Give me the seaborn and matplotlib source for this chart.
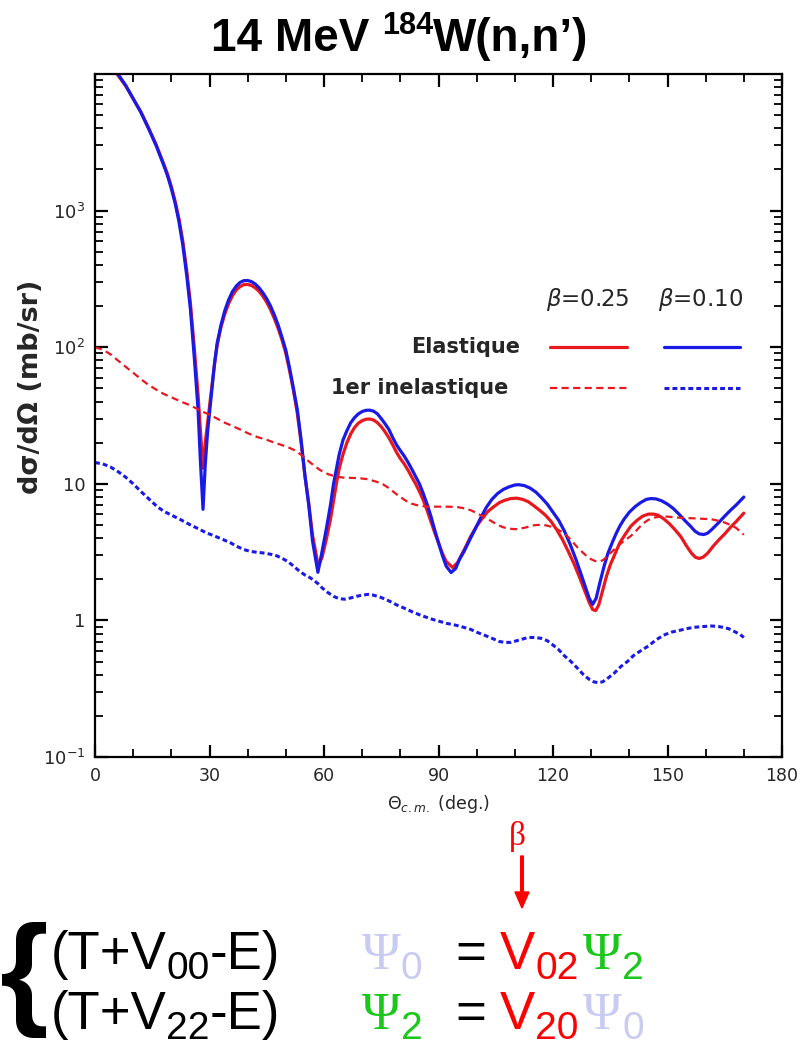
import numpy as np
import pandas as pd
import matplotlib
matplotlib.use("Agg")
import matplotlib.pyplot as plt
import seaborn as sns
from matplotlib.ticker import FixedLocator, FixedFormatter, LogLocator, NullFormatter, MultipleLocator

# ---------------- data ----------------
theta_el_b10 = [2, 4, 6, 8, 10, 12, 14, 16, 18, 19, 20, 21, 22, 23, 24, 25, 26, 27, 27.6, 28.3, 28.9,
                29.5, 30.5, 31.3, 32, 33, 34, 35, 36, 37, 38, 39, 40, 41, 42, 43, 44, 45, 46, 47, 48,
                49, 50, 51, 52, 53, 54, 55, 56, 57, 58.4, 59.3, 60.5, 61.7, 62.5, 63.3, 64, 65, 66, 67,
                68, 69, 70, 71, 72, 73, 74, 75, 76, 77, 78, 79, 80, 81, 82, 83, 84, 85, 86, 87, 88, 89,
                90, 91, 92, 93.3, 94.5, 95.5, 96.7, 98, 99.5, 101, 102.5, 104, 105.5, 107, 108.5, 110,
                111, 112.5, 114, 115.5, 117, 118.5, 120, 121.5, 123, 124.5, 126, 127.3, 128.5, 129.5,
                130.4, 131.3, 132.3, 133.4, 134.4, 135.5, 136.5, 137.5, 138.6, 140, 141.5, 143, 144.5,
                145.7, 147, 148.5, 150, 151.5, 153, 154.5, 156, 157.2, 158.3, 159.5, 160.5, 161.5,
                162.5, 163.7, 165, 166.5, 168, 170]
sigma_el_b10 = [13000, 11700, 10000, 8300, 6600, 5250, 4000, 3000, 2150, 1800, 1450, 1130, 830, 560,
                340, 190, 85, 35, 15, 6.5, 14, 24, 45, 75, 107, 145, 185, 222, 255, 280, 298, 307, 308,
                302, 290, 272, 250, 226, 200, 172, 145, 118, 95, 70, 50, 35, 21, 11.5, 7, 3.8, 2.25,
                3.0, 4.5, 7.0, 10, 13, 16.5, 21, 24.5, 28, 30.5, 32.5, 33.8, 34.5, 34.6, 34, 32.5, 30,
                27.5, 25, 21.8, 19.3, 17.5, 16, 14.4, 12.8, 11.3, 10, 8.5, 7.1, 5.8, 4.6, 3.7, 3.0, 2.5,
                2.24, 2.4, 2.8, 3.2, 3.8, 4.6, 5.6, 6.7, 7.7, 8.5, 9.1, 9.5, 9.8, 9.85, 9.7, 9.3, 8.7,
                7.9, 7.1, 6.2, 5.4, 4.5, 3.6, 2.8, 2.2, 1.75, 1.45, 1.31, 1.45, 1.9, 2.5, 3.1, 3.7, 4.3,
                4.9, 5.5, 6.2, 6.8, 7.3, 7.7, 7.8, 7.75, 7.5, 7.1, 6.6, 6.0, 5.4, 4.9, 4.5, 4.3, 4.25,
                4.35, 4.6, 4.9, 5.3, 5.8, 6.4, 7.0, 8.0]

theta_el_b25 = [2, 4, 6, 8, 10, 12, 14, 16, 18, 19, 20, 21, 22, 23, 24, 25, 26, 27, 27.6, 28.3, 28.9,
                29.5, 30.5, 31.3, 32, 33, 34, 35, 36, 37, 38, 39, 40, 41, 42, 43, 44, 45, 46, 47, 48,
                49, 50, 51, 52, 53, 54, 55, 56, 57, 58.5, 59.5, 60.5, 61.7, 62.5, 63.3, 64, 65, 66, 67,
                68, 69, 70, 71, 72, 73, 74, 75, 76, 77, 78, 79, 80, 81, 82, 83, 84, 85, 86, 87, 88, 89,
                90, 91, 92, 93.7, 95, 96, 97, 98.4, 100, 101.5, 103, 104.5, 106, 107.5, 109, 110.5, 112,
                113.5, 115, 116.5, 118, 119.5, 121, 122.5, 124, 125.5, 127, 128.3, 129.5, 130.4, 131.2,
                132, 133, 134, 135, 136.3, 137.5, 139, 140.4, 142, 143.5, 145, 146.3, 147.5, 149, 150.5,
                152, 153.5, 155, 156.3, 157.3, 158.3, 159.3, 160.5, 162, 163.5, 165, 166.5, 168, 170]
sigma_el_b25 = [12500, 11300, 9800, 8200, 6600, 5300, 4050, 3050, 2200, 1850, 1500, 1170, 870, 600, 370,
                210, 100, 45, 25, 13, 20, 28, 48, 75, 103, 140, 175, 208, 238, 262, 278, 287, 288, 283,
                272, 256, 236, 213, 188, 162, 137, 113, 90, 67, 48, 33, 20, 11.5, 7.2, 4.2, 2.5, 2.9,
                3.8, 5.5, 7.5, 10.2, 13, 16.5, 20, 23.2, 25.8, 27.8, 29, 29.7, 29.8, 29.3, 28, 26.2, 24,
                21.7, 19.3, 17, 15.3, 14, 12.6, 11.2, 10, 8.8, 7.6, 6.4, 5.3, 4.4, 3.7, 3.1, 2.7, 2.44,
                2.65, 3.0, 3.4, 4.1, 4.9, 5.6, 6.3, 6.8, 7.3, 7.6, 7.8, 7.85, 7.7, 7.4, 6.9, 6.4, 5.9,
                5.3, 4.6, 3.9, 3.2, 2.6, 2.05, 1.65, 1.35, 1.2, 1.18, 1.3, 1.65, 2.1, 2.55, 3.1, 3.7,
                4.3, 4.9, 5.4, 5.8, 6.0, 6.0, 5.9, 5.55, 5.1, 4.6, 4.1, 3.5, 3.1, 2.9, 2.84, 2.9, 3.1,
                3.5, 3.9, 4.3, 4.8, 5.3, 6.1]

theta_in_b25 = [0, 2, 4, 6, 8, 10, 12, 14, 16, 18, 20, 22.5, 25, 27.5, 30, 32, 34, 36, 38, 40, 42.5, 45,
                47, 49, 51, 52.5, 54, 55.3, 56.4, 57.7, 59, 60.3, 61.7, 63.3, 65, 67, 69, 71, 72.5, 74,
                75.5, 77, 78.5, 80, 81.5, 83, 85, 87.5, 90, 92.5, 95, 97, 98.5, 100, 102, 104, 105.5,
                107, 108.5, 110, 111.5, 113, 114.5, 116, 117.6, 119, 120.5, 122, 123.5, 125, 126.5, 128,
                129.5, 131, 132, 133, 134.3, 135.5, 137, 138.5, 140.4, 142, 143.5, 145, 146.5, 148, 150,
                153, 156, 159, 161.5, 163.5, 165, 166.5, 168, 170]
sigma_in_b25 = [100, 96, 89, 80, 72, 65, 58.5, 53, 49, 45.5, 43, 40, 37.5, 34.5, 32, 30, 28, 26.5, 25,
                23.5, 22, 21, 20, 19.2, 18.3, 17.5, 16.3, 15.2, 14.3, 13.4, 12.6, 12, 11.6, 11.3, 11.1,
                11.05, 11, 10.85, 10.6, 10.3, 9.9, 9.3, 8.6, 8.0, 7.5, 7.15, 6.9, 6.8, 6.8, 6.8, 6.75,
                6.6, 6.4, 6.1, 5.7, 5.3, 5.0, 4.8, 4.7, 4.65, 4.7, 4.8, 4.95, 5.0, 5.0, 4.9, 4.75, 4.5,
                4.2, 3.8, 3.4, 3.1, 2.85, 2.72, 2.7, 2.75, 2.95, 3.2, 3.5, 3.8, 4.15, 4.6, 5.1, 5.45,
                5.65, 5.75, 5.75, 5.65, 5.6, 5.55, 5.5, 5.35, 5.2, 5.0, 4.75, 4.24]

theta_in_b10 = [0, 2, 4, 6, 8, 10, 12, 14, 16.3, 18, 20, 22.5, 25, 27, 29, 31.3, 33.6, 35.5, 37, 39,
                40.7, 42.5, 44, 46, 47.5, 49, 50.5, 52, 53.5, 55, 56.4, 57.5, 58.5, 59.5, 61, 62.5, 64,
                65.5, 67, 68.5, 70, 71.5, 73, 75, 77, 79, 81, 83, 85, 87, 88.8, 90.5, 92.2, 94, 96, 98.4,
                100, 102, 104, 106, 107.5, 109, 110.5, 112, 113.5, 115, 116.8, 118.5, 120, 121.5, 123,
                124.7, 126.3, 128, 129.5, 130.7, 131.8, 133, 134.5, 136, 137.8, 139.5, 141, 143, 145,
                147, 149, 151, 153.5, 155.5, 157, 159, 161.4, 163, 164.5, 166, 167.5, 169, 170]
sigma_in_b10 = [14.3, 14, 13.3, 12.3, 11.2, 10, 8.8, 7.8, 6.8, 6.3, 5.9, 5.45, 5.0, 4.7, 4.4, 4.15, 3.9,
                3.7, 3.5, 3.3, 3.2, 3.15, 3.12, 3.05, 2.98, 2.85, 2.7, 2.5, 2.3, 2.15, 2.05, 1.95, 1.85,
                1.73, 1.6, 1.5, 1.44, 1.43, 1.46, 1.5, 1.53, 1.55, 1.53, 1.47, 1.39, 1.3, 1.23, 1.16,
                1.1, 1.05, 1.01, 0.98, 0.95, 0.93, 0.9, 0.86, 0.82, 0.78, 0.74, 0.7, 0.69, 0.69, 0.71,
                0.73, 0.75, 0.75, 0.74, 0.71, 0.66, 0.61, 0.55, 0.5, 0.45, 0.4, 0.37, 0.355, 0.35, 0.355,
                0.38, 0.41, 0.46, 0.5, 0.55, 0.6, 0.65, 0.72, 0.78, 0.82, 0.85, 0.875, 0.89, 0.9, 0.91,
                0.905, 0.89, 0.87, 0.83, 0.79, 0.75]

x_ticks = [0, 30, 60, 90, 120, 150, 180]
x_tick_labels = ["0", "30", "60", "90", "120", "150", "180"]
y_ticks = [0.1, 1, 10, 100, 1000]
y_tick_labels = ["10$^{-1}$", "1", "10", "10$^{2}$", "10$^{3}$"]
legend_headers = [r"$\beta$=0.25", r"$\beta$=0.10"]
legend_rows = ["Elastique", "1er inelastique"]

RED = "#e8191e"
BLUE = "#1a1ae6"
LAV = "#c9cbf3"
GREEN = "#19c819"

# ---------------- figure ----------------
sns.set_style("ticks")
plt.rcParams["font.family"] = ["DejaVu Sans"]

SANS = "Liberation Sans"
SERIF = "Liberation Serif"

W, H = 801, 1050
fig = plt.figure(figsize=(W / 100, H / 100), dpi=100)
L, R, T, B = 95, 782, 74, 757
ax = fig.add_axes([L / W, 1 - B / H, (R - L) / W, (B - T) / H])

common = dict(ax=ax, estimator=None, sort=False, solid_joinstyle="round", solid_capstyle="round")
sns.lineplot(x=theta_el_b25, y=sigma_el_b25, color=RED, lw=2.3, **common)
sns.lineplot(x=theta_el_b10, y=sigma_el_b10, color=BLUE, lw=2.3, **common)
sns.lineplot(x=theta_in_b25, y=sigma_in_b25, color=RED, lw=1.6, linestyle=(0, (3.2, 2)), **common)
sns.lineplot(x=theta_in_b10, y=sigma_in_b10, color=BLUE, lw=2.2, linestyle=(0, (1.6, 1.0)), **common)

ax.set_yscale("log")
ax.set_xlim(0, 180)
ax.set_ylim(0.1, 1e4)
ax.xaxis.set_major_locator(FixedLocator(x_ticks))
ax.xaxis.set_major_formatter(FixedFormatter(x_tick_labels))
ax.xaxis.set_minor_locator(MultipleLocator(10))
ax.yaxis.set_major_locator(FixedLocator(y_ticks))
ax.yaxis.set_major_formatter(FixedFormatter(y_tick_labels))
ax.yaxis.set_minor_locator(LogLocator(base=10, subs=np.arange(2, 10)))
ax.yaxis.set_minor_formatter(NullFormatter())
ax.tick_params(which="both", direction="in", top=True, right=True, color="black")
ax.tick_params(which="major", length=9, width=1.6)
ax.tick_params(which="minor", length=5.5, width=1.3)
ax.tick_params(axis="y", which="major", labelsize=13, pad=7)
ax.tick_params(axis="x", which="major", labelsize=12.5, pad=7)
for sp in ax.spines.values():
    sp.set_linewidth(1.6)
    sp.set_color("black")
ax.set_xlabel(r"$\Theta_{c.m.}$ (deg.)", fontsize=12.5, labelpad=6)
ax.set_ylabel("")
fig.text(31 / W, 1 - 387 / H, "d\u03c3/d\u03a9 (mb/sr)", rotation=90, fontsize=19.5,
         fontweight="bold", ha="center", va="center")

# legend block drawn inside the axes
def axx(px):
    return (px - L) / (R - L)

def axy(py):
    return (B - py) / (B - T)

ax.text(axx(588), axy(300), legend_headers[0], transform=ax.transAxes, fontsize=16.5, ha="center", va="center")
ax.text(axx(701), axy(300), legend_headers[1], transform=ax.transAxes, fontsize=16.5, ha="center", va="center")
ax.text(axx(520), axy(347), legend_rows[0], transform=ax.transAxes, fontsize=15, fontweight="bold",
        ha="right", va="center")
ax.text(axx(508), axy(388), legend_rows[1], transform=ax.transAxes, fontsize=15, fontweight="bold",
        ha="right", va="center")
ax.plot([axx(550), axx(627)], [axy(347)] * 2, transform=ax.transAxes, color=RED, lw=2.3)
ax.plot([axx(664), axx(740)], [axy(347)] * 2, transform=ax.transAxes, color=BLUE, lw=2.3)
ax.plot([axx(550), axx(627)], [axy(388)] * 2, transform=ax.transAxes, color=RED, lw=1.6,
        linestyle=(0, (3.2, 2)))
ax.plot([axx(664), axx(740)], [axy(388)] * 2, transform=ax.transAxes, color=BLUE, lw=2.2,
        linestyle=(0, (1.6, 1.0)))

# ---------------- text pieces helper ----------------
renderer = fig.canvas.get_renderer()

def pieces(x, y, items, center=False):
    arts = []
    cur = 0.0
    for txt, size, color, dy, fam, weight in items:
        t = fig.text(0, 1 - (y + dy) / H, txt, fontsize=size, color=color, family=fam,
                     fontweight=weight, ha="left", va="baseline")
        bb = t.get_window_extent(renderer)
        arts.append((t, cur))
        cur += bb.width
    x0 = x - cur / 2 if center else x
    for t, off in arts:
        t.set_x((x0 + off) / W)
    return cur

# title
pieces(400, 51, [("14 MeV ", 33, "black", 0, SANS, "bold"),
                 ("184", 22, "black", -17, SANS, "bold"),
                 ("W(n,n\u2019)", 33, "black", 0, SANS, "bold")], center=True)

# beta + arrow
fig.text(517 / W, 1 - 845 / H, "\u03b2", fontsize=24, color="red", family=SERIF, ha="center",
         va="baseline")
fig.patches.append(matplotlib.patches.FancyArrow(522 / W, 1 - 856 / H, 0, -(52 / H), width=3.5 / H,
                                                  head_width=14 / W, head_length=16 / H,
                                                  length_includes_head=True, color="red",
                                                  transform=fig.transFigure, figure=fig))

# brace (kept fully on the canvas)
brace = fig.text(0, 1 - 1012 / H, "{", fontsize=90, color="black", family=SANS, fontweight="bold",
                 ha="left", va="baseline")
brace_right = brace.get_window_extent(renderer).x1

# equations
BIG, SUB, PSI, SD = 38, 28, 38, 10
x_start = max(33, brace_right + 2)

def row(yb, vsub, psi1_sub, psi1_col, vsub2, psi2_sub, psi2_col):
    pieces(x_start, yb, [("(T+V", BIG, "black", 0, SANS, "normal"),
                         (vsub, SUB, "black", SD, SANS, "normal"),
                         ("-E)", BIG, "black", 0, SANS, "normal")])
    pieces(362, yb, [("\u03a8", PSI, psi1_col, 0, SERIF, "normal"),
                     (psi1_sub, SUB, psi1_col, SD, SANS, "normal")])
    pieces(455, yb, [("=", BIG, "black", 0, SANS, "normal")])
    pieces(500, yb, [("V", BIG, "red", 0, SANS, "normal"),
                     (vsub2, SUB, "red", SD, SANS, "normal"),
                     (" ", 12, "red", 0, SANS, "normal"),
                     ("\u03a8", PSI, psi2_col, 0, SERIF, "normal"),
                     (psi2_sub, SUB, psi2_col, SD, SANS, "normal")])

row(969, "00", "0", LAV, "02", "2", GREEN)
row(1029, "22", "2", GREEN, "20", "0", LAV)

fig.savefig("out.png", dpi=100)
